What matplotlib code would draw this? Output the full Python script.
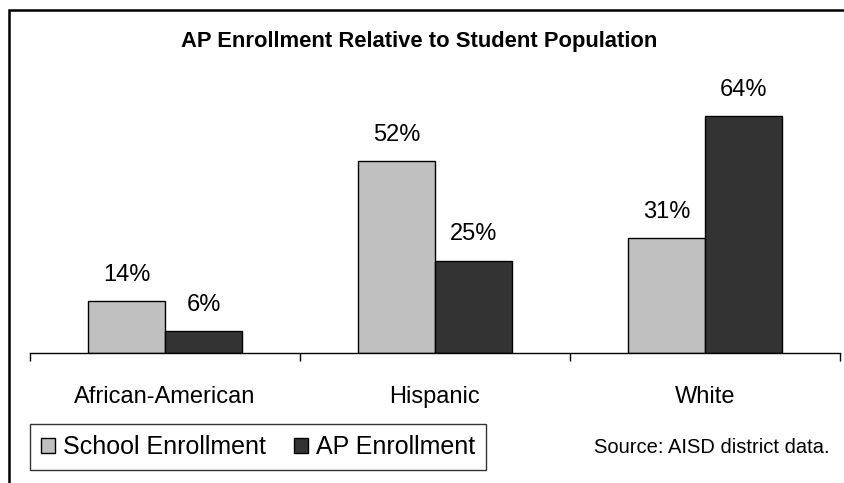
import numpy as np
import matplotlib.pyplot as plt
from matplotlib.patches import Rectangle, Patch

plt.rcParams['font.family'] = ['Liberation Sans', 'DejaVu Sans']

# enrollment shares by group (percent)
groups = ["African-American", "Hispanic", "White"]
school_pct = [14, 52, 31]
ap_pct = [6, 25, 64]

W, H = 845, 483
fig = plt.figure(figsize=(W / 100, H / 100), dpi=100)

# plot area placed in pixel terms: x 30..840, baseline at y=353, top at y=57
ax = fig.add_axes([30 / W, (H - 353) / H, 810 / W, 296 / H])

x = np.arange(len(groups))
bw = 0.285
gray = "#c0c0c0"
dark = "#333333"

b1 = ax.bar(x - bw / 2, school_pct, bw, color=gray, edgecolor="black", linewidth=1.0)
b2 = ax.bar(x + bw / 2, ap_pct, bw, color=dark, edgecolor="black", linewidth=1.0)

for bars, vals in ((b1, school_pct), (b2, ap_pct)):
    for rect, v in zip(bars, vals):
        ax.annotate(f"{v}%", (rect.get_x() + rect.get_width() / 2, v),
                    xytext=(0, 14.4), textcoords="offset points",
                    ha="center", va="baseline", fontsize=17)

ax.set_xlim(-0.5, len(groups) - 0.5)
ax.set_ylim(0, 80)
for side in ("left", "right", "top"):
    ax.spines[side].set_visible(False)
ax.spines["bottom"].set_linewidth(1.0)
ax.set_yticks([])

ax.set_xticks(x)
ax.set_xticklabels(groups, fontsize=17)
ax.tick_params(axis="x", which="major", length=0, pad=24)
ax.set_xticks(np.arange(len(groups) + 1) - 0.5, minor=True)
ax.tick_params(axis="x", which="minor", length=6, width=1.0, direction="out")

fig.text(419 / W, 1 - 41 / H, "AP Enrollment Relative to Student Population",
         ha="center", va="center", fontsize=15.8, fontweight="bold")

fig.text(830 / W, 1 - 453 / H, "Source: AISD district data.",
         ha="right", va="baseline", fontsize=14.5)

handles = [Patch(facecolor=gray, edgecolor="black", linewidth=1.0),
           Patch(facecolor=dark, edgecolor="black", linewidth=1.0)]
leg = fig.legend(handles, ["School Enrollment", "AP Enrollment"],
                 loc="lower left", bbox_to_anchor=(30 / W, 1 - 470 / H),
                 bbox_transform=fig.transFigure, ncol=2, fontsize=18,
                 frameon=True, fancybox=False, shadow=False,
                 handlelength=0.56, handleheight=0.56, handletextpad=0.32,
                 columnspacing=1.12, borderpad=0.44, borderaxespad=0)
leg.get_frame().set_edgecolor("black")
leg.get_frame().set_linewidth(1.0)

# outer frame; its right and bottom edges lie past the image edge
fig.add_artist(Rectangle((9 / W, -0.1), 1.2, (H - 10) / H + 0.1,
                         transform=fig.transFigure, fill=False,
                         edgecolor="black", linewidth=1.8))

fig.savefig("out.png", dpi=100)
